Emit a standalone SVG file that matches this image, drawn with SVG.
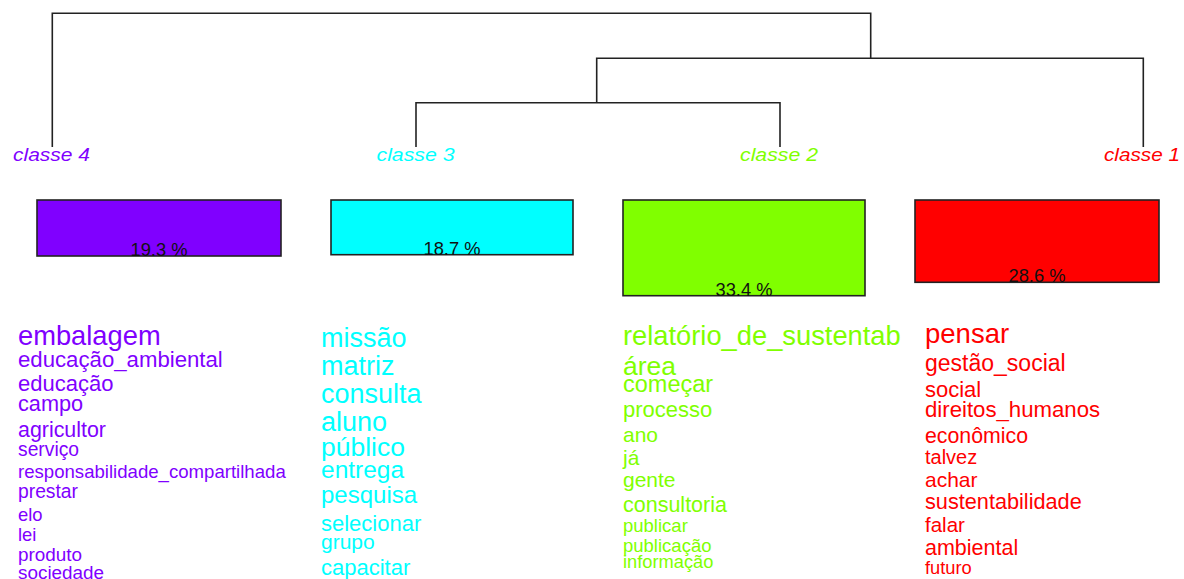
<svg xmlns="http://www.w3.org/2000/svg" width="1184" height="579" viewBox="0 0 1184 579">
  <style>
    text { font-family: "Liberation Sans", Arial, sans-serif; }
    .tree { fill: none; stroke: #222; stroke-width: 1.6; }
    .lbl { font-size: 19px; font-style: italic; text-anchor: middle; }
    .bar { stroke: #222; stroke-width: 1.6; }
    .pct { font-size: 19px; fill: #111; text-anchor: middle; }
    .c4 { fill: #8000FF; }
    .c3 { fill: #00FFFF; }
    .c2 { fill: #80FF00; }
    .c1 { fill: #FF0000; }
  </style>
  <defs>
    <clipPath id="col2clip">
      <rect x="600" y="300" width="301" height="279"/>
    </clipPath>
  </defs>
  <rect width="1184" height="579" fill="#fff"/>

  <!-- dendrogram connectors -->
  <g id="connectors" class="tree">
    <path d="M52.3,147 V13.3 H870.7 V58.3"/>
    <path d="M596.7,102.7 V58.3 H1143.3 V147"/>
    <path d="M416,147 V102.7 H780 V147"/>
  </g>

  <!-- classe 4 -->
  <g id="classe4">
    <text class="lbl c4" x="51.5" y="160.7" textLength="77" lengthAdjust="spacingAndGlyphs">classe  4</text>
    <rect class="bar c4" x="37" y="200" width="244" height="56"/>
    <text class="pct" x="159" y="256" textLength="57" lengthAdjust="spacingAndGlyphs">19.3 %</text>
    <g class="c4">
      <text x="18" y="345" font-size="27.3">embalagem</text>
      <text x="18" y="366.7" font-size="22.2">educação_ambiental</text>
      <text x="18" y="391" font-size="22">educação</text>
      <text x="18" y="411" font-size="21.7">campo</text>
      <text x="18" y="436.5" font-size="21.4">agricultor</text>
      <text x="18" y="455.5" font-size="19.3">serviço</text>
      <text x="18" y="477.5" font-size="18.6">responsabilidade_compartilhada</text>
      <text x="18" y="497.5" font-size="19.3">prestar</text>
      <text x="18" y="521" font-size="18.4">elo</text>
      <text x="18" y="541" font-size="18.4">lei</text>
      <text x="18" y="561" font-size="18.9">produto</text>
      <text x="18" y="578.5" font-size="18.9">sociedade</text>
    </g>
  </g>

  <!-- classe 3 -->
  <g id="classe3">
    <text class="lbl c3" x="415.5" y="160.7" textLength="78" lengthAdjust="spacingAndGlyphs">classe  3</text>
    <rect class="bar c3" x="331" y="200" width="242" height="54.7"/>
    <text class="pct" x="452" y="254.7" textLength="57" lengthAdjust="spacingAndGlyphs">18.7 %</text>
    <g class="c3">
      <text x="321" y="347.3" font-size="27">missão</text>
      <text x="321" y="375" font-size="27">matriz</text>
      <text x="321" y="402.7" font-size="27">consulta</text>
      <text x="321" y="430.7" font-size="27">aluno</text>
      <text x="321" y="455.7" font-size="26.5">público</text>
      <text x="321" y="478.3" font-size="24.5">entrega</text>
      <text x="321" y="502.7" font-size="24">pesquisa</text>
      <text x="321" y="530.7" font-size="22">selecionar</text>
      <text x="321" y="549.3" font-size="21">grupo</text>
      <text x="321" y="575" font-size="22">capacitar</text>
    </g>
  </g>

  <!-- classe 2 -->
  <g id="classe2">
    <text class="lbl c2" x="779" y="160.7" textLength="78" lengthAdjust="spacingAndGlyphs">classe  2</text>
    <rect class="bar c2" x="623" y="200" width="242" height="95.7"/>
    <text class="pct" x="744" y="295.7" textLength="57" lengthAdjust="spacingAndGlyphs">33.4 %</text>
    <g class="c2" clip-path="url(#col2clip)">
      <text x="623" y="345" font-size="27.3">relatório_de_sustentabilidade</text>
      <text x="623" y="375" font-size="26.5">área</text>
      <text x="623" y="391.7" font-size="23.5">começar</text>
      <text x="623" y="417.3" font-size="22">processo</text>
      <text x="623" y="441.7" font-size="21">ano</text>
      <text x="623" y="465" font-size="21">já</text>
      <text x="623" y="486.7" font-size="21">gente</text>
      <text x="623" y="511.7" font-size="21.5">consultoria</text>
      <text x="623" y="531.7" font-size="18.5">publicar</text>
      <text x="623" y="551.7" font-size="18.5">publicação</text>
      <text x="623" y="567.7" font-size="18.3">informação</text>
    </g>
  </g>

  <!-- classe 1 -->
  <g id="classe1">
    <text class="lbl c1" x="1142" y="160.7" textLength="76" lengthAdjust="spacingAndGlyphs">classe  1</text>
    <rect class="bar c1" x="915" y="200" width="244" height="82.3"/>
    <text class="pct" x="1037" y="282.3" textLength="57" lengthAdjust="spacingAndGlyphs">28.6 %</text>
    <g class="c1">
      <text x="925" y="343.3" font-size="27.5">pensar</text>
      <text x="925" y="370.7" font-size="23">gestão_social</text>
      <text x="925" y="396.7" font-size="22">social</text>
      <text x="925" y="417.3" font-size="22.2">direitos_humanos</text>
      <text x="925" y="443.3" font-size="21.3">econômico</text>
      <text x="925" y="464.3" font-size="20">talvez</text>
      <text x="925" y="486.7" font-size="21">achar</text>
      <text x="925" y="509" font-size="21.7">sustentabilidade</text>
      <text x="925" y="531.7" font-size="20.5">falar</text>
      <text x="925" y="555" font-size="21.5">ambiental</text>
      <text x="925" y="574.3" font-size="18.3">futuro</text>
    </g>
  </g>
</svg>
